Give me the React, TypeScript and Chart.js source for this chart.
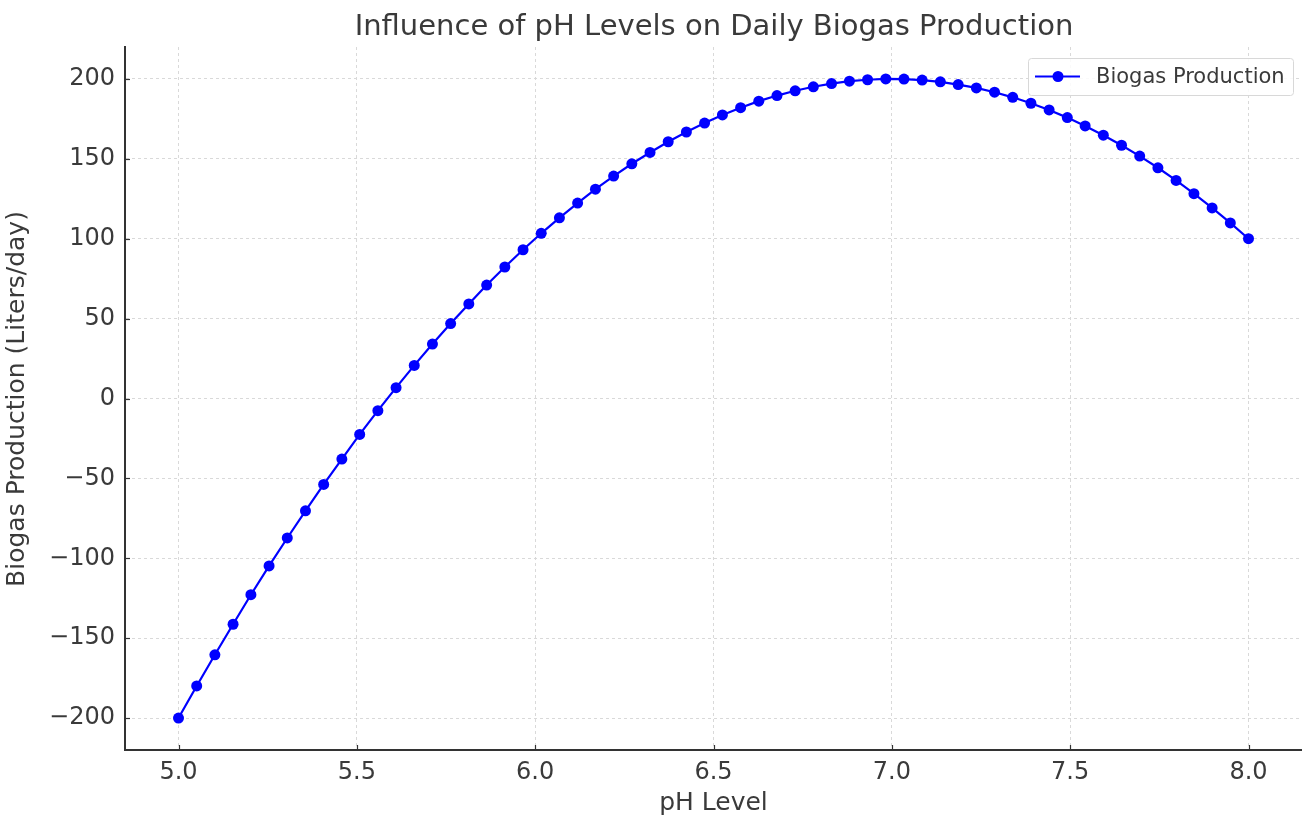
import React, { useEffect, useRef } from "react";
import { Chart, registerables } from "chart.js";

Chart.register(...registerables);

const phLevels = [
  5.0, 5.051, 5.102, 5.153, 5.203, 5.254, 5.305, 5.356, 5.407, 5.458,
  5.508, 5.559, 5.61, 5.661, 5.712, 5.763, 5.814, 5.864, 5.915, 5.966,
  6.017, 6.068, 6.119, 6.169, 6.22, 6.271, 6.322, 6.373, 6.424, 6.475,
  6.525, 6.576, 6.627, 6.678, 6.729, 6.78, 6.831, 6.881, 6.932, 6.983,
  7.034, 7.085, 7.136, 7.186, 7.237, 7.288, 7.339, 7.39, 7.441, 7.492,
  7.542, 7.593, 7.644, 7.695, 7.746, 7.797, 7.847, 7.898, 7.949, 8.0,
];

const biogasProduction = [
  -200.0, -179.9, -160.4, -141.3, -122.8, -104.8, -87.3, -70.3, -53.8, -37.9,
  -22.5, -7.6, 6.8, 20.7, 34.1, 46.9, 59.2, 71.0, 82.3, 93.1,
  103.4, 113.1, 122.3, 131.0, 139.2, 146.9, 154.0, 160.7, 166.8, 172.4,
  177.5, 182.0, 186.1, 189.6, 192.6, 195.1, 197.1, 198.6, 199.5, 200.0,
  199.9, 199.3, 198.2, 196.5, 194.4, 191.7, 188.5, 184.8, 180.6, 175.8,
  170.6, 164.8, 158.5, 151.7, 144.4, 136.5, 128.2, 119.3, 109.9, 100.0,
];

const xTickValues = [5.0, 5.5, 6.0, 6.5, 7.0, 7.5, 8.0];
const yTickValues = [-200, -150, -100, -50, 0, 50, 100, 150, 200];

const TITLE = "Influence of pH Levels on Daily Biogas Production";
const X_TITLE = "pH Level";
const Y_TITLE = "Biogas Production (Liters/day)";
const SERIES_LABEL = "Biogas Production";

const FONT = "'DejaVu Sans', sans-serif";
const TEXT = "#3a3a3a";
const BLUE = "#0000ff";

const decorPlugin = {
  id: "decor",
  afterDraw(chart: any) {
    const ctx = chart.ctx;
    const ca = chart.chartArea;
    const xs = chart.scales.x;
    const ys = chart.scales.y;
    ctx.save();
    // inward ticks
    ctx.strokeStyle = "#333";
    ctx.lineWidth = 1.2;
    xTickValues.forEach((v) => {
      const px = Math.round(xs.getPixelForValue(v)) + 0.5;
      ctx.beginPath();
      ctx.moveTo(px, ca.bottom);
      ctx.lineTo(px, ca.bottom - 5);
      ctx.stroke();
    });
    yTickValues.forEach((v) => {
      const py = Math.round(ys.getPixelForValue(v)) + 0.5;
      ctx.beginPath();
      ctx.moveTo(ca.left, py);
      ctx.lineTo(ca.left + 5, py);
      ctx.stroke();
    });
    const cx = (ca.left + ca.right) / 2;
    // title
    ctx.fillStyle = TEXT;
    ctx.textAlign = "center";
    ctx.textBaseline = "alphabetic";
    ctx.font = `29px ${FONT}`;
    ctx.fillText(TITLE, 714, 35);
    // x title
    ctx.font = `25px ${FONT}`;
    ctx.fillText(X_TITLE, cx, 810);
    // y title
    ctx.save();
    ctx.translate(24, 399);
    ctx.rotate(-Math.PI / 2);
    ctx.fillText(Y_TITLE, 0, 0);
    ctx.restore();
    // legend
    const lx = 1028, ly = 58, lw = 265, lh = 37;
    ctx.fillStyle = "rgba(255,255,255,0.85)";
    ctx.strokeStyle = "#d8d8d8";
    ctx.lineWidth = 1;
    ctx.beginPath();
    if ((ctx as any).roundRect) (ctx as any).roundRect(lx + 0.5, ly + 0.5, lw, lh, 3);
    else ctx.rect(lx + 0.5, ly + 0.5, lw, lh);
    ctx.fill();
    ctx.stroke();
    const cy = ly + lh / 2;
    ctx.strokeStyle = BLUE;
    ctx.lineWidth = 2;
    ctx.beginPath();
    ctx.moveTo(1035, cy);
    ctx.lineTo(1080, cy);
    ctx.stroke();
    ctx.fillStyle = BLUE;
    ctx.beginPath();
    ctx.arc(1058, cy, 5.5, 0, Math.PI * 2);
    ctx.fill();
    ctx.fillStyle = TEXT;
    ctx.textAlign = "left";
    ctx.textBaseline = "middle";
    ctx.font = `21px ${FONT}`;
    ctx.fillText(SERIES_LABEL, 1096, cy + 1);
    ctx.restore();
  },
};

export default function App() {
  const ref = useRef<HTMLCanvasElement | null>(null);
  useEffect(() => {
    if (!ref.current) return;
    const chart = new Chart(ref.current, {
      type: "line",
      data: {
        datasets: [
          {
            label: SERIES_LABEL,
            data: phLevels.map((x, i) => ({ x, y: biogasProduction[i] })),
            borderColor: BLUE,
            backgroundColor: BLUE,
            borderWidth: 2.2,
            pointRadius: 5.5,
            pointBackgroundColor: BLUE,
            pointBorderWidth: 0,
            tension: 0,
            clip: false,
          },
        ],
      },
      options: {
        responsive: false,
        animation: false,
        devicePixelRatio: 1,
        layout: { autoPadding: false, padding: { top: 47, right: 0, left: 0, bottom: 0 } },
        plugins: {
          legend: { display: false },
          title: { display: false },
          tooltip: { enabled: false },
        },
        scales: {
          x: {
            type: "linear",
            min: 4.85,
            max: 8.15,
            afterBuildTicks: (s: any) => {
              s.ticks = xTickValues.map((v) => ({ value: v }));
            },
            afterFit: (s: any) => {
              s.height = 67;
            },
            ticks: {
              autoSkip: false,
              maxRotation: 0,
              padding: 8,
              color: TEXT,
              font: { family: FONT, size: 24 },
              callback: (v: any) => Number(v).toFixed(1),
            },
            grid: {
              color: "#d9d9d9",
              lineWidth: 1,
              drawTicks: false,
            },
            border: { display: true, color: "#333", width: 2, dash: [3, 3] },
          },
          y: {
            type: "linear",
            min: -220,
            max: 220,
            afterBuildTicks: (s: any) => {
              s.ticks = yTickValues.map((v) => ({ value: v }));
            },
            afterFit: (s: any) => {
              s.width = 125;
            },
            ticks: {
              autoSkip: false,
              padding: 10,
              color: TEXT,
              font: { family: FONT, size: 24 },
              callback: (v: any) => {
                const n = Number(v);
                return n < 0 ? "\u2212" + Math.abs(n) : String(n);
              },
            },
            grid: {
              color: "#d9d9d9",
              lineWidth: 1,
              drawTicks: false,
            },
            border: { display: true, color: "#333", width: 2, dash: [3, 3] },
          },
        },
      },
      plugins: [decorPlugin],
    } as any);
    return () => chart.destroy();
  }, []);
  return (
    <div style={{ position: "fixed", left: 0, top: 0, width: 1302, height: 817, background: "#fff" }}>
      <canvas ref={ref} width={1302} height={817} style={{ width: 1302, height: 817 }} />
    </div>
  );
}
